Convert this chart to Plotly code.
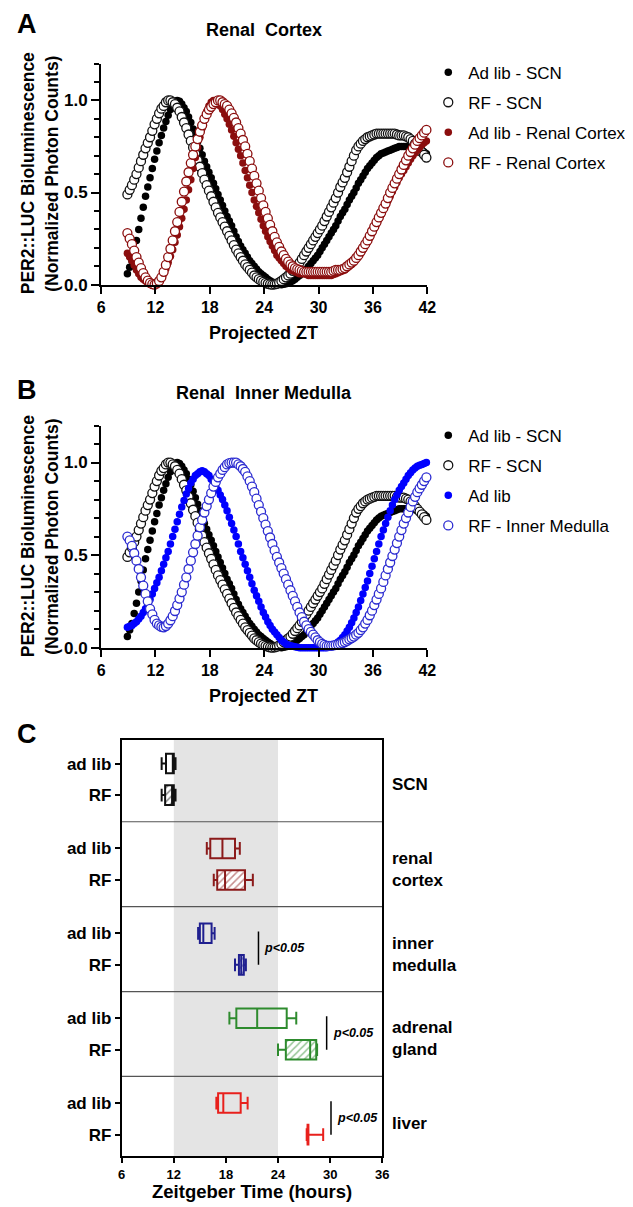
import plotly.graph_objects as go

W, H = 633, 1207
FONT = "Arial, 'Liberation Sans', Helvetica, sans-serif"

# ---------------- data: panels A and B (projected ZT, normalized counts) ----------------
zt_hours = [8.9, 9.15, 9.4, 9.65, 9.9, 10.15, 10.4, 10.65, 10.9, 11.15,
            11.4, 11.65, 11.9, 12.15, 12.4, 12.65, 12.9, 13.15, 13.4, 13.65,
            13.9, 14.15, 14.4, 14.65, 14.9, 15.15, 15.4, 15.65, 15.9, 16.15,
            16.4, 16.65, 16.9, 17.15, 17.4, 17.65, 17.9, 18.15, 18.4, 18.65,
            18.9, 19.15, 19.4, 19.65, 19.9, 20.15, 20.4, 20.65, 20.9, 21.15,
            21.4, 21.65, 21.9, 22.15, 22.4, 22.65, 22.9, 23.15, 23.4, 23.65,
            23.9, 24.15, 24.4, 24.65, 24.9, 25.15, 25.4, 25.65, 25.9, 26.15,
            26.4, 26.65, 26.9, 27.15, 27.4, 27.65, 27.9, 28.15, 28.4, 28.65,
            28.9, 29.15, 29.4, 29.65, 29.9, 30.15, 30.4, 30.65, 30.9, 31.15,
            31.4, 31.65, 31.9, 32.15, 32.4, 32.65, 32.9, 33.15, 33.4, 33.65,
            33.9, 34.15, 34.4, 34.65, 34.9, 35.15, 35.4, 35.65, 35.9, 36.15,
            36.4, 36.65, 36.9, 37.15, 37.4, 37.65, 37.9, 38.15, 38.4, 38.65,
            38.9, 39.15, 39.4, 39.65, 39.9, 40.15, 40.4, 40.65, 40.9, 41.15,
            41.4, 41.65, 41.9]

adlib_scn = [0.06, 0.095, 0.13, 0.185, 0.24, 0.30, 0.36, 0.42, 0.48, 0.53,
             0.58, 0.63, 0.68, 0.725, 0.77, 0.81, 0.85, 0.885, 0.92, 0.95,
             0.98, 0.995, 1.00, 0.995, 0.98, 0.96, 0.94, 0.91, 0.88, 0.845,
             0.81, 0.775, 0.74, 0.705, 0.67, 0.64, 0.61, 0.58, 0.55, 0.52,
             0.49, 0.46, 0.43, 0.40, 0.37, 0.345, 0.32, 0.29, 0.26, 0.235,
             0.21, 0.19, 0.17, 0.15, 0.13, 0.115, 0.10, 0.085, 0.07, 0.06,
             0.05, 0.04, 0.03, 0.022, 0.015, 0.01, 0.005, 0.002, 0.0, 0.002,
             0.005, 0.01, 0.015, 0.022, 0.03, 0.04, 0.05, 0.06, 0.07, 0.085,
             0.10, 0.115, 0.13, 0.145, 0.16, 0.18, 0.20, 0.22, 0.24, 0.26,
             0.28, 0.30, 0.32, 0.345, 0.37, 0.39, 0.41, 0.435, 0.46, 0.48,
             0.50, 0.525, 0.55, 0.57, 0.59, 0.61, 0.63, 0.645, 0.66, 0.675,
             0.69, 0.70, 0.71, 0.715, 0.72, 0.725, 0.73, 0.735, 0.74, 0.745,
             0.75, 0.75, 0.75, 0.75, 0.75, 0.75, 0.75, 0.745, 0.74, 0.735,
             0.73, 0.72, 0.71]

rf_scn = [0.49, 0.515, 0.54, 0.57, 0.60, 0.635, 0.67, 0.705, 0.74, 0.77,
          0.80, 0.835, 0.87, 0.90, 0.93, 0.955, 0.97, 0.99, 1.00, 1.00,
          0.99, 0.98, 0.96, 0.94, 0.91, 0.88, 0.85, 0.815, 0.78, 0.745,
          0.71, 0.675, 0.64, 0.605, 0.57, 0.54, 0.51, 0.48, 0.45, 0.42,
          0.39, 0.365, 0.34, 0.315, 0.29, 0.265, 0.24, 0.215, 0.19, 0.17,
          0.15, 0.13, 0.11, 0.095, 0.08, 0.065, 0.05, 0.04, 0.03, 0.022,
          0.015, 0.01, 0.005, 0.002, 0.0, 0.002, 0.005, 0.012, 0.02, 0.03,
          0.04, 0.05, 0.06, 0.075, 0.09, 0.105, 0.12, 0.14, 0.16, 0.18,
          0.20, 0.22, 0.24, 0.26, 0.28, 0.30, 0.32, 0.345, 0.37, 0.395,
          0.42, 0.445, 0.47, 0.50, 0.53, 0.555, 0.58, 0.61, 0.64, 0.67,
          0.70, 0.73, 0.75, 0.765, 0.78, 0.79, 0.80, 0.805, 0.81, 0.815,
          0.82, 0.82, 0.82, 0.82, 0.82, 0.82, 0.82, 0.82, 0.82, 0.815,
          0.81, 0.81, 0.81, 0.805, 0.80, 0.79, 0.78, 0.765, 0.75, 0.735,
          0.72, 0.705, 0.69]

adlib_cortex = [0.17, 0.15, 0.13, 0.105, 0.08, 0.06, 0.04, 0.03, 0.02, 0.01,
                0.005, 0.001, 0.0, 0.008, 0.02, 0.037, 0.06, 0.088, 0.12, 0.155,
                0.19, 0.23, 0.27, 0.315, 0.36, 0.41, 0.46, 0.515, 0.57, 0.63,
                0.69, 0.745, 0.80, 0.85, 0.90, 0.94, 0.97, 0.99, 1.00, 1.00,
                0.99, 0.97, 0.95, 0.925, 0.90, 0.87, 0.84, 0.805, 0.77, 0.735,
                0.70, 0.66, 0.62, 0.58, 0.54, 0.50, 0.46, 0.425, 0.39, 0.355,
                0.32, 0.29, 0.26, 0.235, 0.21, 0.185, 0.16, 0.145, 0.13, 0.115,
                0.10, 0.09, 0.08, 0.075, 0.07, 0.065, 0.06, 0.06, 0.06, 0.055,
                0.05, 0.05, 0.05, 0.05, 0.05, 0.05, 0.05, 0.05, 0.05, 0.05,
                0.05, 0.055, 0.06, 0.065, 0.07, 0.075, 0.08, 0.09, 0.10, 0.11,
                0.12, 0.135, 0.15, 0.17, 0.19, 0.21, 0.23, 0.255, 0.28, 0.305,
                0.33, 0.355, 0.38, 0.405, 0.43, 0.455, 0.48, 0.505, 0.53, 0.555,
                0.58, 0.60, 0.62, 0.64, 0.66, 0.68, 0.70, 0.715, 0.73, 0.745,
                0.76, 0.77, 0.78]

rf_cortex = [0.28, 0.25, 0.22, 0.185, 0.15, 0.12, 0.09, 0.063, 0.04, 0.022,
             0.01, 0.003, 0.0, 0.007, 0.02, 0.04, 0.07, 0.107, 0.15, 0.195,
             0.24, 0.29, 0.34, 0.395, 0.45, 0.505, 0.56, 0.61, 0.66, 0.705,
             0.75, 0.79, 0.83, 0.865, 0.90, 0.925, 0.95, 0.965, 0.98, 0.99,
             1.00, 1.00, 0.99, 0.98, 0.97, 0.95, 0.93, 0.905, 0.88, 0.85,
             0.82, 0.785, 0.75, 0.71, 0.67, 0.63, 0.59, 0.55, 0.51, 0.47,
             0.43, 0.395, 0.36, 0.325, 0.29, 0.26, 0.23, 0.205, 0.18, 0.16,
             0.14, 0.125, 0.11, 0.10, 0.09, 0.085, 0.08, 0.075, 0.07, 0.07,
             0.07, 0.07, 0.07, 0.07, 0.07, 0.07, 0.07, 0.07, 0.07, 0.07,
             0.07, 0.075, 0.08, 0.08, 0.08, 0.085, 0.09, 0.10, 0.11, 0.12,
             0.13, 0.145, 0.16, 0.18, 0.20, 0.22, 0.24, 0.265, 0.29, 0.315,
             0.34, 0.365, 0.39, 0.415, 0.44, 0.47, 0.50, 0.525, 0.55, 0.575,
             0.60, 0.625, 0.65, 0.675, 0.70, 0.72, 0.74, 0.76, 0.78, 0.795,
             0.81, 0.825, 0.84]

adlib_medulla = [0.11, 0.115, 0.12, 0.13, 0.14, 0.155, 0.17, 0.19, 0.21, 0.235,
                 0.26, 0.29, 0.32, 0.35, 0.38, 0.415, 0.45, 0.485, 0.52, 0.56,
                 0.60, 0.64, 0.68, 0.72, 0.76, 0.795, 0.83, 0.86, 0.89, 0.91,
                 0.93, 0.94, 0.95, 0.955, 0.95, 0.94, 0.93, 0.91, 0.89, 0.87,
                 0.85, 0.825, 0.80, 0.77, 0.74, 0.705, 0.67, 0.635, 0.60, 0.56,
                 0.52, 0.485, 0.45, 0.415, 0.38, 0.345, 0.31, 0.28, 0.25, 0.22,
                 0.19, 0.165, 0.14, 0.12, 0.10, 0.085, 0.07, 0.055, 0.04, 0.03,
                 0.02, 0.015, 0.01, 0.007, 0.005, 0.002, 0.0, 0.0, 0.0, 0.0,
                 0.0, 0.0, 0.0, 0.0, 0.0, 0.0, 0.0, 0.0, 0.0, 0.005,
                 0.01, 0.015, 0.02, 0.03, 0.04, 0.055, 0.07, 0.09, 0.11, 0.135,
                 0.16, 0.19, 0.22, 0.255, 0.29, 0.325, 0.36, 0.40, 0.44, 0.48,
                 0.52, 0.56, 0.60, 0.635, 0.67, 0.705, 0.74, 0.77, 0.80, 0.825,
                 0.85, 0.87, 0.89, 0.91, 0.93, 0.945, 0.96, 0.97, 0.98, 0.985,
                 0.99, 0.995, 1.00]

rf_medulla = [0.60, 0.58, 0.55, 0.51, 0.47, 0.425, 0.38, 0.335, 0.29, 0.25,
              0.21, 0.18, 0.15, 0.13, 0.12, 0.113, 0.11, 0.117, 0.13, 0.148,
              0.17, 0.198, 0.23, 0.265, 0.30, 0.34, 0.38, 0.425, 0.47, 0.515,
              0.56, 0.605, 0.65, 0.69, 0.73, 0.765, 0.80, 0.835, 0.87, 0.895,
              0.92, 0.94, 0.96, 0.975, 0.99, 0.997, 1.00, 1.00, 1.00, 0.99,
              0.98, 0.965, 0.95, 0.925, 0.90, 0.87, 0.84, 0.805, 0.77, 0.735,
              0.70, 0.665, 0.63, 0.595, 0.56, 0.525, 0.49, 0.46, 0.43, 0.40,
              0.37, 0.34, 0.31, 0.28, 0.25, 0.22, 0.19, 0.165, 0.14, 0.12,
              0.10, 0.085, 0.07, 0.055, 0.04, 0.03, 0.02, 0.015, 0.01, 0.01,
              0.01, 0.012, 0.015, 0.017, 0.02, 0.025, 0.03, 0.037, 0.045, 0.052,
              0.06, 0.07, 0.08, 0.095, 0.11, 0.13, 0.15, 0.175, 0.20, 0.23,
              0.26, 0.29, 0.32, 0.355, 0.39, 0.425, 0.46, 0.495, 0.53, 0.565,
              0.60, 0.635, 0.67, 0.70, 0.73, 0.76, 0.79, 0.815, 0.84, 0.86,
              0.88, 0.90, 0.92]

for _s in (adlib_scn, rf_scn, adlib_cortex, rf_cortex, adlib_medulla, rf_medulla):
    assert len(_s) == len(zt_hours), len(_s)

zt_ticks = [6, 12, 18, 24, 30, 36, 42]
y_ticks = [0.0, 0.5, 1.0]
y_tick_text = ["0.0", "0.5", "1.0"]
y_minor = [0.1, 0.2, 0.3, 0.4, 0.6, 0.7, 0.8, 0.9, 1.1, 1.2]

# ---------------- data: panel C (peak phase, hours) ----------------
tissues = ["SCN", "renal<br>cortex", "inner<br>medulla", "adrenal<br>gland", "liver"]
# [lower whisker, q1, median, q3, upper whisker]
adlib_stats = [[10.6, 11.1, 11.9, 12.0, 12.2],
               [15.8, 16.2, 17.6, 19.05, 19.6],
               [14.8, 15.0, 15.4, 16.35, 16.7],
               [18.4, 19.2, 21.6, 25.0, 26.1],
               [16.9, 17.1, 17.7, 19.7, 20.5]]
rf_stats = [[10.6, 11.0, 11.8, 12.0, 12.2],
            [16.6, 17.0, 17.9, 20.2, 21.1],
            [19.05, 19.5, 19.76, 20.06, 20.3],
            [24.0, 24.9, 27.7, 28.4, 28.5],
            [27.3, 27.4, 27.45, 27.5, 29.2]]
tissue_colors = ["#111111", "#8b1a1a", "#1f1f8f", "#2e8b2e", "#e8201c"]
sig_tissues = [2, 3, 4]
sig_x = [21.75, 29.6, 30.1]
sig_text = "p&lt;0.05"
dark_phase = [12, 24]
zt_c_ticks = [6, 12, 18, 24, 30, 36]
row_labels = ["ad lib", "RF"]

# ---------------- figure ----------------
fig = go.Figure()

def add_curve(x, y, name, color, filled, xa, ya, leg):
    if filled:
        marker = dict(symbol="circle", size=7.5, color=color, line=dict(width=0))
    else:
        marker = dict(symbol="circle", size=9, color="white", line=dict(color=color, width=1.3))
    fig.add_trace(go.Scatter(x=x, y=y, mode="markers", name=name, marker=marker,
                             xaxis=xa, yaxis=ya, legend=leg, legendgroup=name + leg,
                             cliponaxis=False, hoverinfo="skip"))

# Panel A
add_curve(zt_hours, adlib_scn, "Ad lib - SCN", "#000000", True, "x", "y", "legend")
add_curve(zt_hours, rf_scn, "RF - SCN", "#111111", False, "x", "y", "legend")
add_curve(zt_hours, adlib_cortex, "Ad lib - Renal Cortex", "#8b0e0e", True, "x", "y", "legend")
add_curve(zt_hours, rf_cortex, "RF - Renal Cortex", "#8b0e0e", False, "x", "y", "legend")
# Panel B
add_curve(zt_hours, adlib_scn, "Ad lib - SCN", "#000000", True, "x2", "y2", "legend2")
add_curve(zt_hours, rf_scn, "RF - SCN", "#111111", False, "x2", "y2", "legend2")
add_curve(zt_hours, adlib_medulla, "Ad lib", "#0000ff", True, "x2", "y2", "legend2")
add_curve(zt_hours, rf_medulla, "RF - Inner Medulla", "#2b2bd1", False, "x2", "y2", "legend2")

# Panel C positions
group_gap = 2.69
adlib_pos = [g * group_gap for g in range(len(tissues))]
rf_pos = [p + 1 for p in adlib_pos]
box_w = 0.62

# hatch fills for RF boxes
for i in range(len(tissues)):
    s = rf_stats[i]
    fig.add_trace(go.Bar(orientation="h", y=[rf_pos[i]], x=[s[3] - s[1]], base=[s[1]], width=box_w,
                         marker=dict(color="white", line=dict(width=0),
                                     pattern=dict(shape="/", fgcolor=tissue_colors[i], bgcolor="white",
                                                  size=5, solidity=0.3)),
                         xaxis="x3", yaxis="y3", showlegend=False, hoverinfo="skip"))

for i in range(len(tissues)):
    a, r = adlib_stats[i], rf_stats[i]
    fig.add_trace(go.Box(y=[adlib_pos[i], rf_pos[i]],
                         lowerfence=[a[0], r[0]], q1=[a[1], r[1]], median=[a[2], r[2]],
                         q3=[a[3], r[3]], upperfence=[a[4], r[4]],
                         orientation="h", width=box_w, whiskerwidth=0.65,
                         line=dict(color=tissue_colors[i], width=2),
                         fillcolor="rgba(0,0,0,0)", boxpoints=False,
                         xaxis="x3", yaxis="y3", showlegend=False, hoverinfo="skip"))

# ---------------- layout ----------------
def dx(p):
    return p / W

def dy(p):
    return 1 - p / H

axis_common = dict(showgrid=False, zeroline=False, showline=True, linecolor="black", linewidth=2,
                   ticks="outside", tickcolor="black", tickwidth=2)
tickfont_ab = dict(family=FONT, size=16, color="black", weight="bold")

ya_common = dict(axis_common, range=[0, 1.2], tickmode="array", tickvals=y_ticks, ticktext=y_tick_text,
                 ticklen=8, tickfont=dict(family=FONT, size=17, color="black", weight="bold"),
                 minor=dict(tickmode="array", tickvals=y_minor, ticks="outside", ticklen=5,
                            tickwidth=1.5, tickcolor="black", showgrid=False))
xa_common = dict(axis_common, range=[6, 42], tickmode="array", tickvals=zt_ticks, ticklen=7,
                 tickfont=tickfont_ab)

fig.update_layout(
    width=W, height=H, margin=dict(l=0, r=0, t=0, b=0),
    paper_bgcolor="white", plot_bgcolor="rgba(0,0,0,0)",
    font=dict(family=FONT, color="black"),
    xaxis=dict(xa_common, domain=[dx(91), dx(424)], anchor="y"),
    yaxis=dict(ya_common, domain=[dy(279), dy(56)], anchor="x"),
    xaxis2=dict(xa_common, domain=[dx(91), dx(424)], anchor="y2"),
    yaxis2=dict(ya_common, domain=[dy(645), dy(421)], anchor="x2"),
    xaxis3=dict(axis_common, domain=[dx(112), dx(378)], anchor="y3", range=[6, 36], tickmode="array",
                tickvals=zt_c_ticks, ticklen=5, mirror=True,
                tickfont=dict(family=FONT, size=13, color="black", weight="bold")),
    yaxis3=dict(axis_common, domain=[dy(1158), dy(738)], anchor="x3",
                range=[rf_pos[-1] + 0.69, -0.75], tickmode="array",
                tickvals=[p for pair in zip(adlib_pos, rf_pos) for p in pair],
                ticktext=row_labels * len(tissues), ticklen=5, mirror=True,
                tickfont=dict(family=FONT, size=17, color="black", weight="bold")),
    barmode="overlay",
    legend=dict(x=dx(425), xanchor="left", y=dy(47), yanchor="top", bgcolor="rgba(0,0,0,0)",
                font=dict(family=FONT, size=17, color="black"), tracegroupgap=5),
    legend2=dict(x=dx(425), xanchor="left", y=dy(413), yanchor="top", bgcolor="rgba(0,0,0,0)",
                 font=dict(family=FONT, size=17, color="black"), tracegroupgap=5),
)

shapes = []
shapes.append(dict(type="rect", xref="x3", yref="y3 domain", x0=dark_phase[0], x1=dark_phase[1],
                   y0=0, y1=1, fillcolor="#e4e4e4", line=dict(width=0), layer="below"))
for g in range(len(tissues) - 1):
    sep = (rf_pos[g] + adlib_pos[g + 1]) / 2
    shapes.append(dict(type="line", xref="x3 domain", yref="y3", x0=0, x1=1, y0=sep, y1=sep,
                       line=dict(color="#555555", width=1.2), layer="below"))
for k, g in enumerate(sig_tissues):
    shapes.append(dict(type="line", xref="x3", yref="y3", x0=sig_x[k], x1=sig_x[k],
                       y0=adlib_pos[g] - 0.06, y1=rf_pos[g], line=dict(color="black", width=1.5)))
fig.update_layout(shapes=shapes)

ann = []
def paper_text(text, x, y, size, bold=True, angle=0, xanchor="center"):
    ann.append(dict(text=text, xref="paper", yref="paper", x=dx(x), y=dy(y), showarrow=False,
                    xanchor=xanchor, yanchor="middle", textangle=angle,
                    font=dict(family=FONT, size=size, color="black", weight="bold" if bold else "normal")))

paper_text("A", 15, 16, 27)
paper_text("B", 15, 385, 27)
paper_text("C", 15, 732, 27)
paper_text("Renal\u00a0 Cortex", 257, 22, 18)
paper_text("Renal\u00a0 Inner Medulla", 257, 388, 18)
for off in (0, 366):
    paper_text("PER2::LUC Bioluminescence", 16, 167 + off, 17.5, angle=-90)
    paper_text("(Normalized Photon Counts)", 40, 167 + off, 17.5, angle=-90)
    paper_text("Projected ZT", 257, 328 + off, 18)
paper_text("Zeitgeber Time (hours)", 245, 1193, 18.5)

for g, label in enumerate(tissues):
    center = (adlib_pos[g] + rf_pos[g]) / 2
    ann.append(dict(text=label, xref="x3 domain", yref="y3", x=1, y=center, xshift=8, yshift=-5,
                    showarrow=False, xanchor="left", yanchor="middle", align="left",
                    font=dict(family=FONT, size=17, color="black", weight="bold")))

for k, g in enumerate(sig_tissues):
    ann.append(dict(text=sig_text, xref="x3", yref="y3", x=sig_x[k], y=(adlib_pos[g] + rf_pos[g]) / 2,
                    xshift=4, yshift=1, showarrow=False, xanchor="left", yanchor="middle",
                    font=dict(family=FONT, size=12.5, color="black", weight="bold", style="italic")))

fig.update_layout(annotations=ann)

fig.write_html("out.html")
